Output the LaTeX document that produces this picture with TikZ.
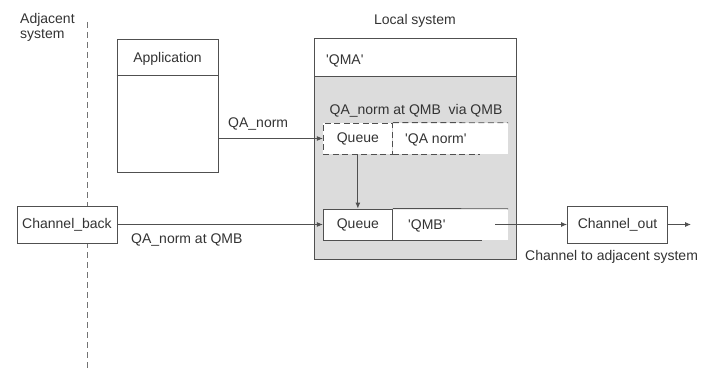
\documentclass[tikz,border=0pt]{standalone}
\usepackage{fontspec}
\setmainfont{Liberation Sans}
\usetikzlibrary{arrows.meta, positioning, calc}
\definecolor{linegray}{HTML}{505050}
\definecolor{textgray}{HTML}{333333}
\definecolor{panelgray}{HTML}{DCDCDC}
\tikzset{
    box/.style={rectangle, draw=linegray, line width=0.9pt, fill=white, inner sep=0pt},
    chanbox/.style={box, minimum width=100pt, minimum height=37pt, text=textgray, font=\fontsize{14}{15}\selectfont},
    qbox/.style={box, minimum width=69pt, minimum height=31pt, text=textgray, font=\fontsize{14}{15}\selectfont},
    qname/.style={rectangle, fill=white, inner sep=0pt, minimum width=115pt, minimum height=31pt},
    txt/.style={inner sep=0pt, text=textgray, font=\fontsize{14}{15}\selectfont},
    arrow/.style={-{Latex[length=6pt, width=5pt]}, line width=0.9pt, draw=linegray},
    qline/.style={line width=0.9pt, draw=linegray},
    qdash/.style={dash pattern=on 6pt off 3.5pt},
}

\begin{document}
\begin{tikzpicture}[x=1pt, y=-1pt]
        \useasboundingbox (0,0) rectangle (701,369);

        % System divider
        \coordinate (divtop) at (87,22);
        \coordinate (divbot) at (87,369);
        \draw[line width=0.9pt, draw=linegray!80, dash pattern=on 6pt off 4pt] (divtop) -- (divbot);

        % Headings
        \node[txt, anchor=north west, align=left] (adj) at (20,13.5) {Adjacent\\system};
        \node[txt, anchor=base] (loclab) at (415,25) {Local system};

        % Application
        \node[box, minimum width=101pt, minimum height=133pt] (app) at (167.5,105.5) {};
        \draw[qline] ($(app.north west)+(0,37)$) -- ($(app.north east)+(0,37)$);
        \node[txt, anchor=base] (apptitle) at (167.5,63) {Application};

        % Local queue manager
        \node[box, fill=panelgray, minimum width=202pt, minimum height=221pt] (qma) at (415,148.5) {};
        \node[box, anchor=north west, minimum width=202pt, minimum height=38pt] (qmahead) at (qma.north west) {};
        \node[txt, anchor=base west] (qmaname) at (326,64) {\textquotesingle QMA\textquotesingle};
        \node[txt, anchor=base] (viaq) at (416,114) {QA\_norm at QMB\ \ via QMB};

        % Remote queue definition
        \node[qname] (qdn) at (450.5,138.5) {};
        \node[qbox, dashed, qdash, left=0pt of qdn] (qdq) {Queue};
        \draw[qline, qdash] (qdq.north east) -- (qdn.north east);
        \draw[qline, qdash] (qdq.south east) -- ++(87,0);
        \node[txt, anchor=base west] (qdnlab) at (405,143) {\textquotesingle QA norm\textquotesingle};

        % Transmission queue
        \node[qname] (qrn) at (450.5,224.5) {};
        \node[qbox, left=0pt of qrn] (qrq) {Queue};
        \draw[qline] (qrq.north east) -- (qrn.north east);
        \draw[qline] (qrq.south east) -- ++(89,0);
        \node[txt, anchor=base west] (qrnlab) at (408,229) {\textquotesingle QMB\textquotesingle};

        % Channels
        \node[chanbox] (cback) at (67,224.5) {Channel\_back};
        \node[chanbox] (cout) at (617.5,224.5) {Channel\_out};
        \coordinate (qmbout) at (495,224.5);
        \coordinate (outend) at (691,224.5);

        % Arrows
        \draw[arrow] (app.east |- qdq.west) -- (qdq.west);
        \node[txt, anchor=base west] (lblnorm) at (228,127) {QA\_norm};
        \draw[arrow] (qdq.south) -- (qrq.north);
        \draw[arrow] (cback) -- (qrq.west);
        \node[txt, anchor=base west] (lblback) at (131,243) {QA\_norm at QMB};
        \draw[arrow] (qmbout) -- (cout.west);
        \draw[arrow] (cout) -- (outend);
        \node[txt, anchor=base west] (lblout) at (525,260) {Channel to adjacent system};
    \end{tikzpicture}
\end{document}
